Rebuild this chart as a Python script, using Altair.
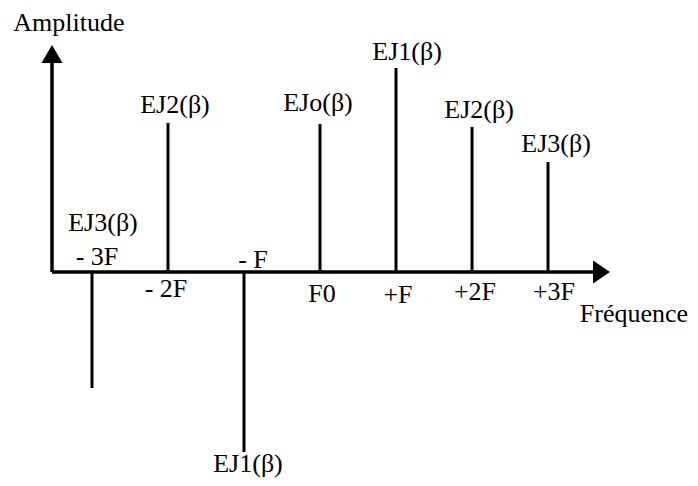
import altair as alt
import pandas as pd

# ---- data ----
harmonics = [-3, -2, -1, 0, 1, 2, 3]
amplitudes = [-1.16, 1.49, -1.80, 1.48, 2.04, 1.45, 1.10]
amp_labels = ["EJ3(β)", "EJ2(β)", "EJ1(β)", "EJo(β)", "EJ1(β)", "EJ2(β)", "EJ3(β)"]
tick_labels = ["- 3F", "- 2F", "- F", "F0", "+F", "+2F", "+3F"]

# ---- layout (pixel offsets of the labels: dx right, dy down) ----
amp_dx = [11, 7, 4, -2, 11, 7, 8]
amp_dy = [-157, -10, 20, -13, -8, -9, -10]
tick_dx = [5, -2, 9, 2, 2, 3, 6]
tick_dy = [-7, 25, -4, 30, 31, 28, 28]

W, H = 682, 470
XDOM = [-4.105, 4.868]
YDOM = [-2.06, 2.64]
PXX = W / (XDOM[1] - XDOM[0])
PXY = H / (YDOM[1] - YDOM[0])

FONT = "Liberation Serif"
FS = 26

df = pd.DataFrame({"n": harmonics, "amp": amplitudes, "lab": amp_labels, "tick": tick_labels})
df["zero"] = 0.0
df["lx"] = [n + dx / PXX for n, dx in zip(harmonics, amp_dx)]
df["ly"] = [a - dy / PXY for a, dy in zip(amplitudes, amp_dy)]
df["tx"] = [n + dx / PXX for n, dx in zip(harmonics, tick_dx)]
df["ty"] = [-dy / PXY for dy in tick_dy]

xs = alt.Scale(domain=XDOM, nice=False, zero=False)
ys = alt.Scale(domain=YDOM, nice=False, zero=False)

# axes geometry (in data units)
AX_X = -3.526
axes = pd.DataFrame({
    "x": [AX_X, AX_X], "x2": [AX_X, 3.65],
    "y": [0.0, 0.0], "y2": [2.10, 0.0],
})
arrows = pd.DataFrame({
    "x": [AX_X, 3.704], "y": [2.18, 0.0],
    "shape": ["M0,-0.857L1,0.857L-1,0.857Z", "M-0.74,-1L0.74,0L-0.74,1Z"],
    "size": [441, 529],
})

axis_lines = alt.Chart(axes).mark_rule(color="black", strokeWidth=3.5).encode(
    x=alt.X("x:Q", scale=xs, axis=None), x2="x2:Q",
    y=alt.Y("y:Q", scale=ys, axis=None), y2="y2:Q",
)
arrow_heads = alt.Chart(arrows).mark_point(filled=True, color="black", opacity=1, strokeWidth=0).encode(
    x=alt.X("x:Q", scale=xs, axis=None),
    y=alt.Y("y:Q", scale=ys, axis=None),
    shape=alt.Shape("shape:N", scale=None),
    size=alt.Size("size:Q", scale=None),
)

stems = alt.Chart(df).mark_rule(color="black", strokeWidth=3).encode(
    x=alt.X("n:Q", scale=xs, axis=None),
    y=alt.Y("zero:Q", scale=ys, axis=None), y2="amp:Q",
)

amp_text = alt.Chart(df).mark_text(font=FONT, fontSize=FS, align="center", baseline="alphabetic", color="black").encode(
    x=alt.X("lx:Q", scale=xs, axis=None),
    y=alt.Y("ly:Q", scale=ys, axis=None),
    text="lab:N",
)
tick_text = alt.Chart(df).mark_text(font=FONT, fontSize=FS, align="center", baseline="alphabetic", color="black").encode(
    x=alt.X("tx:Q", scale=xs, axis=None),
    y=alt.Y("ty:Q", scale=ys, axis=None),
    text="tick:N",
)

titles = pd.DataFrame({"t": ["Amplitude", "Fréquence"], "x": [-3.303, 4.13], "y": [2.41, -0.50]})
title_text = alt.Chart(titles).mark_text(font=FONT, fontSize=FS, align="center", baseline="alphabetic", color="black").encode(
    x=alt.X("x:Q", scale=xs, axis=None),
    y=alt.Y("y:Q", scale=ys, axis=None),
    text="t:N",
)

chart = alt.layer(axis_lines, arrow_heads, stems, amp_text, tick_text, title_text).properties(
    width=W, height=H, autosize=alt.AutoSizeParams(type="none"), padding=0,
    background="white",
).configure_view(stroke=None)

chart.save("out.html", embed_options={"renderer": "svg", "actions": False})
